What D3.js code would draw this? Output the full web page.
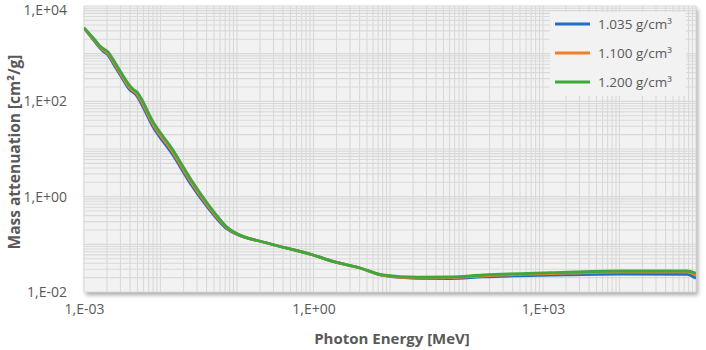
<!DOCTYPE html>
<html><head><meta charset="utf-8">
<script src="https://cdn.jsdelivr.net/npm/d3@7"></script>
<style>
body{margin:0;background:#fff;}
text{font-family:"Open Sans",sans-serif;}
</style></head>
<body><svg id="chart" width="706" height="350"></svg>
<script>
const energy = [0.001, 1.393e-3, 1.618e-3, 1.825e-3, 2.06e-3, 2.47e-3, 3.14e-3, 3.99e-3, 4.51e-3, 4.93e-3, 5.56e-3, 7.74e-3, 1.456e-2, 2.43e-2, 3.82e-2, 5.65e-2, 7.40e-2, 9.14e-2, 0.247, 0.984, 1.80, 4.05, 8.1, 22.5, 60.8, 164, 1236, 1.016e4, 7.63e4, 1e5];
const mu1035 = [3455, 1758, 1315, 1084, 937, 578, 309, 173, 150, 129, 92.3, 31.9, 7.48, 1.94, 0.702, 0.324, 0.210, 0.173, 0.1067, 0.0598, 0.0437, 0.0319, 0.0222, 0.0194, 0.0192, 0.0207, 0.02254, 0.02387, 0.02355, 0.0194];
const mu1100 = [3455, 1845, 1380, 1166, 1008, 637, 340, 190, 161, 142.6, 104, 36.0, 8.45, 2.18, 0.773, 0.3485, 0.2203, 0.1772, 0.1067, 0.0598, 0.0437, 0.0319, 0.02244, 0.01986, 0.01995, 0.02168, 0.02422, 0.0263, 0.0263, 0.02244];
const mu1200 = [3455, 1936, 1449, 1253, 1084, 702, 375, 210, 173, 157, 117, 40.6, 9.53, 2.47, 0.851, 0.375, 0.231, 0.1815, 0.1067, 0.0598, 0.0437, 0.0319, 0.02275, 0.02037, 0.02066, 0.02275, 0.0254, 0.0276, 0.0276, 0.0247];
const seriesNames = ["1.035 g/cm\u00B3", "1.100 g/cm\u00B3", "1.200 g/cm\u00B3"];
const seriesColors = ["#1f6ec4", "#f07d2a", "#3ea83a"];
const xTicks = [1e-3, 1, 1e3];
const yTicks = [1e-2, 1, 1e2, 1e4];
const xTitle = "Photon Energy [MeV]";
const yTitle = "Mass attenuation [cm\u00B2/g]";

const svg = d3.select("#chart");
const L = 84, R = 696, T = 6, B = 292;
const x = d3.scaleLog().domain([1e-3, 1e5]).range([L, R]);
const y = d3.scaleLog().domain([1e-2, 1e4]).range([B, T]);

const defs = svg.append("defs");
const f = defs.append("filter").attr("id","sh").attr("x","-5%").attr("y","-5%").attr("width","110%").attr("height","115%");
f.append("feDropShadow").attr("dx",2).attr("dy",3).attr("stdDeviation",2).attr("flood-color","#000").attr("flood-opacity",0.35);

svg.append("rect").attr("x",L).attr("y",T).attr("width",R-L).attr("height",B-T)
  .attr("fill","#f2f2f2").attr("filter","url(#sh)");

function fmt(v){
  const e = Math.round(Math.log10(v));
  const s = e < 0 ? "-" : "+";
  return "1,E" + s + String(Math.abs(e)).padStart(2,"0");
}
function logGrid(dom){
  const out=[];
  const a=Math.round(Math.log10(dom[0])), b=Math.round(Math.log10(dom[1]));
  for(let e=a;e<b;e++){for(let k=1;k<10;k++){out.push(k*Math.pow(10,e));}}
  out.push(Math.pow(10,b));
  return out;
}
const grid = svg.append("g");
grid.selectAll("line.v").data(logGrid(x.domain())).join("line")
  .attr("x1",d=>x(d)).attr("x2",d=>x(d)).attr("y1",T).attr("y2",B)
  .attr("stroke","#d9d9d9").attr("stroke-width",1.1);
grid.selectAll("line.h").data(logGrid(y.domain())).enter().append("line")
  .attr("y1",d=>y(d)).attr("y2",d=>y(d)).attr("x1",L).attr("x2",R)
  .attr("stroke","#d9d9d9").attr("stroke-width",1.1);

const xAxis = svg.append("g").attr("transform",`translate(0,${B+9})`)
  .call(d3.axisBottom(x).tickValues(xTicks).tickFormat(fmt).tickSize(0));
xAxis.select(".domain").remove();
xAxis.selectAll("text").attr("fill","#595959").attr("font-size","14px").attr("font-family","Open Sans");

const yAxis = svg.append("g").attr("transform",`translate(${L-14},0)`)
  .call(d3.axisLeft(y).tickValues(yTicks).tickFormat(fmt).tickSize(0));
yAxis.select(".domain").remove();
yAxis.selectAll("text").attr("fill","#595959").attr("font-size","14px").attr("font-family","Open Sans").attr("dx",0);
yAxis.selectAll(".tick").filter(d=>d===1e4).select("text").attr("dy","0.62em");

svg.append("text").attr("x",(L+R)/2+2).attr("y",344).attr("text-anchor","middle")
  .attr("font-weight","bold").attr("font-size","15px").attr("fill","#595959").text(xTitle);
svg.append("text").attr("transform",`translate(20,${(T+B)/2+3}) rotate(-90)`).attr("text-anchor","middle")
  .attr("font-weight","bold").attr("font-size","15.5px").attr("fill","#595959").text(yTitle);

const allSeries = [mu1035, mu1100, mu1200];
const line = d3.line().x(d=>x(d[0])).y(d=>y(d[1])).curve(d3.curveMonotoneX);
const clip = defs.append("clipPath").attr("id","clip");
clip.append("rect").attr("x",L).attr("y",T).attr("width",R-L).attr("height",B-T);
const lines = svg.append("g").attr("clip-path","url(#clip)");
allSeries.forEach((s,i)=>{
  lines.append("path").datum(energy.map((e,j)=>[e,s[j]]))
    .attr("d",line).attr("fill","none").attr("stroke",seriesColors[i])
    .attr("stroke-width",2.8).attr("stroke-linejoin","round");
});

const lg = svg.append("g");
lg.append("rect").attr("x",550).attr("y",12).attr("width",136).attr("height",84).attr("fill","#f2f2f2");
seriesNames.forEach((n,i)=>{
  const yy = 24 + i*29;
  lg.append("line").attr("x1",555).attr("x2",590).attr("y1",yy).attr("y2",yy)
    .attr("stroke",seriesColors[i]).attr("stroke-width",2.8);
  lg.append("text").attr("x",598).attr("y",yy).attr("dy","0.35em").attr("font-size","13.5px")
    .attr("fill","#595959").text(n);
});
</script></body></html>
